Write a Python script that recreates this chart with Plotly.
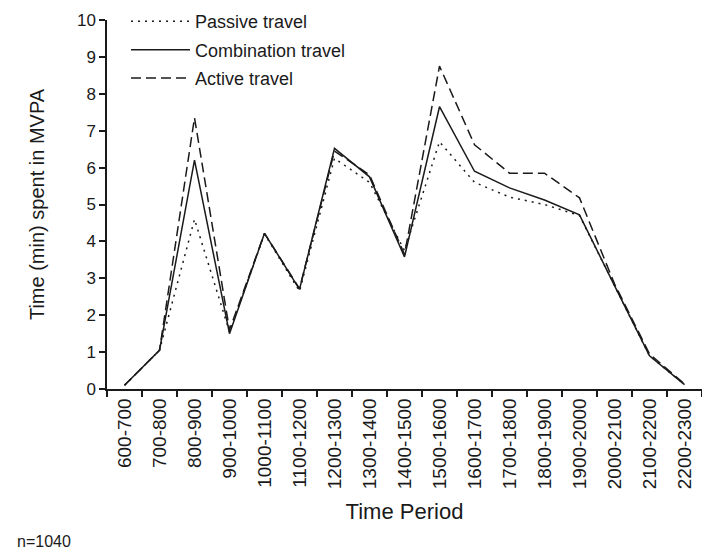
import plotly.graph_objects as go

periods = ["600-700", "700-800", "800-900", "900-1000", "1000-1100", "1100-1200",
           "1200-1300", "1300-1400", "1400-1500", "1500-1600", "1600-1700",
           "1700-1800", "1800-1900", "1900-2000", "2000-2100", "2100-2200", "2200-2300"]

passive = [0.1, 1.05, 4.6, 1.55, 4.2, 2.65, 6.25, 5.6, 3.75, 6.7, 5.6, 5.2, 5.0, 4.7, 2.8, 0.9, 0.12]
combination = [0.1, 1.05, 6.2, 1.5, 4.22, 2.7, 6.52, 5.75, 3.58, 7.65, 5.9, 5.45, 5.12, 4.72, 2.8, 0.9, 0.12]
active = [0.1, 1.05, 7.35, 1.6, 4.22, 2.72, 6.45, 5.8, 3.65, 8.75, 6.62, 5.85, 5.85, 5.18, 2.85, 0.95, 0.14]

font = "Liberation Sans, Arial, sans-serif"
ink = "#1a1a1a"

fig = go.Figure()
fig.add_trace(go.Scatter(x=periods, y=passive, mode="lines", name="Passive travel",
                         legendgroup="p", line=dict(color=ink, width=1.5, dash="2px,5px")))
fig.add_trace(go.Scatter(x=periods, y=combination, mode="lines", name="Combination travel",
                         legendgroup="c", line=dict(color=ink, width=1.5)))
fig.add_trace(go.Scatter(x=periods, y=active, mode="lines", name="Active travel",
                         legendgroup="a", line=dict(color=ink, width=1.5, dash="10px,5px")))

# page body has an 8px margin, so the margins are shifted to compensate
fig.update_layout(
    width=710, height=557,
    margin=dict(l=99, r=16, t=12, b=176, autoexpand=False),
    paper_bgcolor="white", plot_bgcolor="white",
    font=dict(family=font, color=ink, size=16),
    legend=dict(x=19 / 595, y=1.046, xanchor="left", yanchor="top",
                font=dict(size=18), itemwidth=59, bgcolor="rgba(0,0,0,0)",
                traceorder="grouped", tracegroupgap=2),
    annotations=[dict(text="n=1040", x=-92 / 595, y=-(541 - 389) / 369,
                      xref="paper", yref="paper", xanchor="left", yanchor="middle",
                      showarrow=False, font=dict(size=16))],
)

fig.update_xaxes(type="category", range=[-0.5, 16.5], showline=True, linecolor=ink,
                 linewidth=1.5, ticks="outside", tickson="boundaries", ticklen=6,
                 tickcolor=ink, tickwidth=1.5, tickangle=-90, showgrid=False,
                 tickfont=dict(size=19),
                 title=dict(text="Time Period", font=dict(size=22), standoff=15))
fig.update_yaxes(range=[0, 10], dtick=1, showline=True, linecolor=ink, linewidth=1.5,
                 ticks="outside", ticklen=6, tickcolor=ink, tickwidth=1.5,
                 showgrid=False, zeroline=False, tickfont=dict(size=17),
                 title=dict(text="Time (min) spent in MVPA", font=dict(size=20), standoff=27))

fig.write_html("out.html")
